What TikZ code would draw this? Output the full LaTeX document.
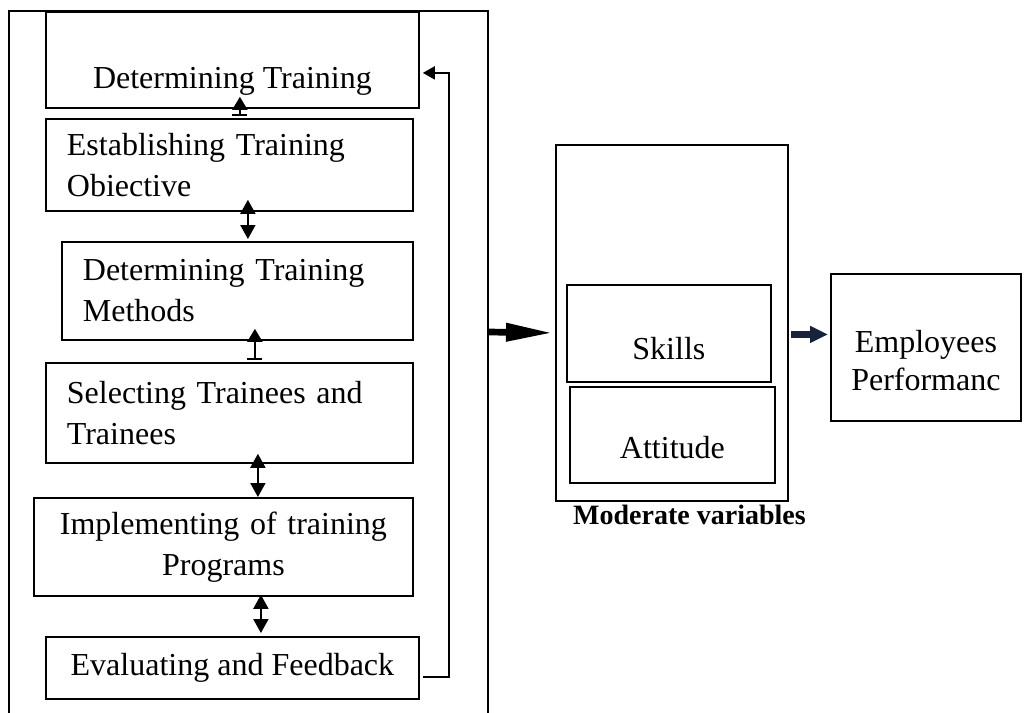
\documentclass[tikz,border=0pt]{standalone}
\usepackage{fontspec}
\setmainfont{Liberation Serif}
\usetikzlibrary{arrows.meta}

\definecolor{navyarrow}{RGB}{24,34,58}
\tikzset{
  stepbox/.style={draw, line width=1.8pt, inner ysep=0pt, anchor=north west, font=\fontsize{32}{41}\selectfont},
  twoway/.style={{Triangle[length=14pt,width=15pt]}-{Triangle[length=14pt,width=15pt]}, line width=1.8pt},
  barway/.style={{Bar[width=15pt]}-{Triangle[length=13pt,width=15pt]}, line width=1.8pt},
}

\begin{document}
\begin{tikzpicture}[x=1pt,y=-1pt]
\useasboundingbox (0,0) rectangle (1025,712);

% Draw the outer frame round the training steps
\draw[line width=1.8pt] (9,720) -- (9,11) -- (488,11) -- (488,720);
\coordinate (frameE) at (488,332);

% Draw the training steps
\node[stepbox, minimum width=373pt, inner xsep=0pt, text height=77pt, text depth=19pt] (needs) at (45,11) {Determining Training};
\node[stepbox, minimum height=92pt, inner xsep=21pt, text width=325pt, align=left] (objective) at (45,118) {Establishing Training\\Obiective};
\node[stepbox, minimum height=98pt, inner xsep=21pt, text width=309pt, align=left] (methods) at (61,241) {Determining Training\\Methods};
\node[stepbox, minimum height=100pt, inner xsep=21pt, text width=325pt, align=left] (trainees) at (45,362) {Selecting Trainees and\\Trainees};
\node[stepbox, minimum height=98pt, inner xsep=10pt, text width=359pt, align=center] (implement) at (33,497) {Implementing of training\\Programs};
\node[stepbox, minimum width=373pt, inner xsep=0pt, text height=39pt, text depth=23pt] (evaluate) at (45,636) {Evaluating and Feedback};

% Arrows between the steps
\draw[barway, shorten >=-12pt] ([xshift=10.5pt,yshift=2pt]objective.north) -- ([xshift=7.5pt]needs.south);
\draw[twoway, shorten <=-12pt, shorten >=2pt] ([xshift=18.5pt]objective.south) -- ([xshift=10.5pt]methods.north);
\draw[barway, shorten >=-12pt] ([xshift=25.5pt,yshift=2pt]trainees.north) -- ([xshift=17.5pt]methods.south);
\draw[twoway, shorten <=-10pt] ([xshift=28.5pt]trainees.south) -- ([xshift=34.5pt]implement.north);
\draw[twoway, shorten <=-2pt, shorten >=3pt] ([xshift=37.5pt]implement.south) -- ([xshift=28.5pt]evaluate.north);

% Feedback loop
\draw[line width=1.8pt, -{Triangle[length=12pt,width=13pt]}] ([xshift=3pt,yshift=-9pt]evaluate.east) -- ++(26,0) |- ([xshift=3pt,yshift=-13pt]needs.east);

% Moderate variables
\node[stepbox, minimum width=232pt, minimum height=356pt] (moderate) at (555,144) {};
\node[stepbox, minimum width=204pt, inner xsep=0pt, text height=75pt, text depth=22pt] (skills) at (566,284) {Skills};
\node[stepbox, minimum width=205pt, inner xsep=0pt, text height=72pt, text depth=24pt] (attitude) at (569,386) {Attitude};
\node[font=\fontsize{28}{34}\selectfont\bfseries, anchor=base west, inner sep=0pt] (modlabel) at ([xshift=18pt,yshift=-23pt]moderate.south west) {Moderate variables};

% Employees performance
\node[stepbox, minimum width=190pt, inner xsep=0pt, align=center, text height=117pt, text depth=30pt] (performance) at (830,273) {Employees\\[-3pt]Performanc};

% Arrows into and out of the moderate variables
\draw[line width=6.7pt, -{Triangle[length=47pt,width=17pt]}] (frameE) -- ([xshift=-2pt,yshift=-10pt]moderate.west);
\draw[line width=6.5pt, navyarrow, -{Triangle[length=18pt,width=16pt]}] ([xshift=2pt,yshift=-11.5pt]moderate.east) -- ([xshift=-2pt,yshift=13pt]performance.west);
\end{tikzpicture}
\end{document}
